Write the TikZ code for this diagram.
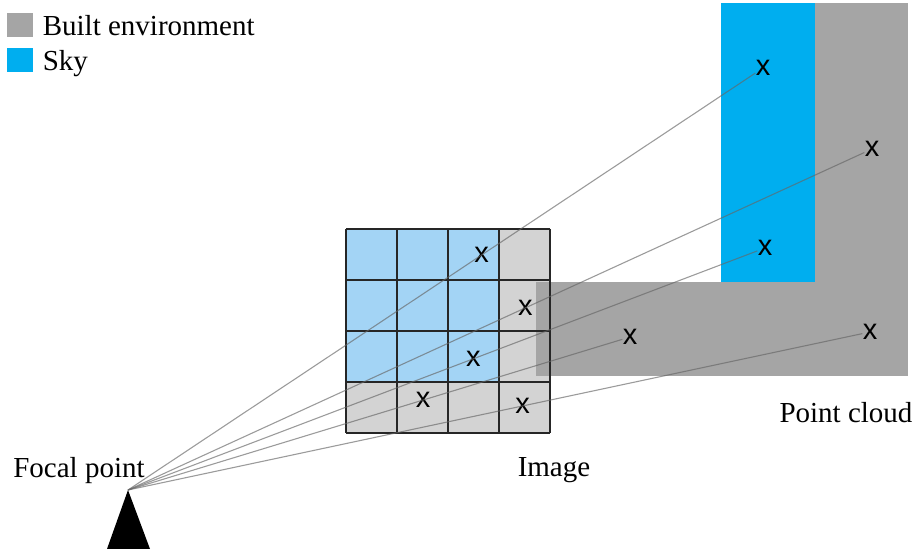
\documentclass[tikz,border=0pt]{standalone}
\usepackage{fontspec}
\setmainfont{Liberation Serif}
\newfontfamily\marksans{Liberation Sans}
\usetikzlibrary{calc,positioning}

\definecolor{built}{RGB}{165,165,165}
\definecolor{sky}{RGB}{0,174,239}
\definecolor{builtcell}{RGB}{211,211,211}
\definecolor{skycell}{RGB}{163,212,245}

\tikzset{
  xmark/.style={inner sep=0pt, font=\marksans\fontsize{14.5}{16}\selectfont},
  ray/.style={draw=black!60, line width=0.55pt, opacity=0.65},
  cellline/.style={draw=black!85, line width=1pt},
  legbox/.style={minimum width=13pt, minimum height=12pt, inner sep=0pt},
  caption/.style={inner sep=0pt, text depth=0pt, font=\fontsize{14.5}{17}\selectfont}
}

\begin{document}
\begin{tikzpicture}[x=0.5pt,y=-0.5pt]
  \useasboundingbox (0,0) rectangle (917,549);
  % legend
  \node[legbox, fill=built] (lbuilt) at (20,25) {};
  \node[legbox, fill=sky] (lsky) at (20,60.5) {};
  \node[caption, right=4.5pt of lbuilt] (tbuilt) {Built environment};
  \node[caption, right=4.5pt of lsky] (tsky) {Sky};
  % image cells
  \fill[skycell] (346,229) rectangle (499,382);
  \fill[builtcell] (499,229) rectangle (550,433);
  \fill[builtcell] (346,382) rectangle (499,433);
  % point cloud
  \fill[sky] (721,3) rectangle (815,282);
  \fill[built] (815,3) rectangle (908,376);
  \fill[built] (536,282) rectangle (815,376);
  % image grid
  \foreach \i in {0,...,4} {
    \draw[cellline] (346+51*\i,229) -- (346+51*\i,433);
    \draw[cellline] (346,229+51*\i) -- (550,229+51*\i);
  }
  % focal point
  \coordinate (F) at (128,490);
  \fill (F) -- (107,549) -- (150,549) -- cycle;
  \node[caption] (tfocal) at (79,467) {Focal point};
  \node[caption] (timage) at (554,467) {Image};
  \node[caption] (tcloud) at (846,412) {Point cloud};
  % points of the cloud
  \node[xmark] (c1) at (763,68) {x};
  \node[xmark] (c2) at (872,149) {x};
  \node[xmark] (c3) at (765,248) {x};
  \node[xmark] (c4) at (630,337) {x};
  \node[xmark] (c5) at (870,332) {x};
  % their pixels in the image
  \node[xmark] (i1) at ($(F)!0.557!(c1)$) {x};
  \node[xmark] (i2) at ($(F)!0.534!(c2)$) {x};
  \node[xmark] (i3) at ($(F)!0.542!(c3)$) {x};
  \node[xmark] (i4) at ($(F)!0.588!(c4)$) {x};
  \node[xmark] (i5) at ($(F)!0.532!(c5)$) {x};
  % rays
  \foreach \p in {1,...,5}
    \draw[ray] (F) -- (c\p);
\end{tikzpicture}
\end{document}
